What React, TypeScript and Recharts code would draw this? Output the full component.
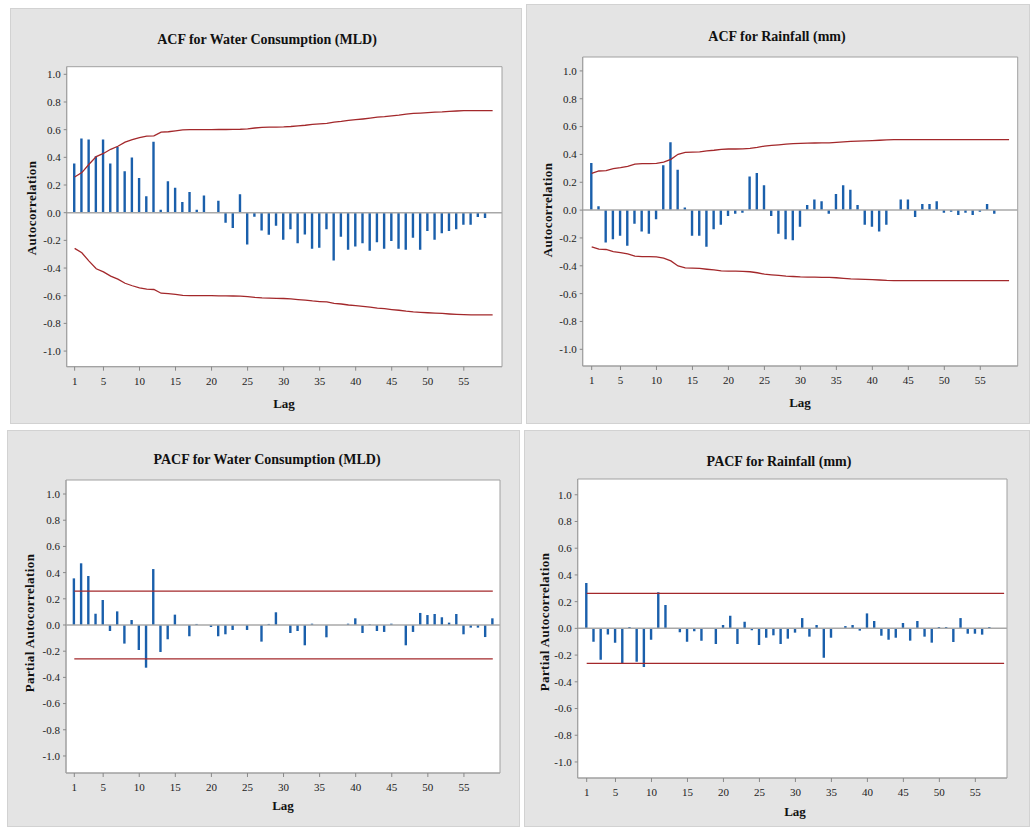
import React from 'react';
import {
  ComposedChart,
  Bar,
  Line,
  XAxis,
  YAxis,
  ReferenceLine,
  ReferenceArea,
  CartesianGrid,
} from 'recharts';

// ---------- data ----------
const LAGS = [
  1, 2, 3, 4, 5, 6, 7, 8, 9, 10, 11, 12, 13, 14, 15, 16, 17, 18, 19, 20,
  21, 22, 23, 24, 25, 26, 27, 28, 29, 30, 31, 32, 33, 34, 35, 36, 37, 38, 39, 40,
  41, 42, 43, 44, 45, 46, 47, 48, 49, 50, 51, 52, 53, 54, 55, 56, 57, 58, 59,
];

const X_TICKS = [1, 5, 10, 15, 20, 25, 30, 35, 40, 45, 50, 55];
const Y_TICKS = [-1, -0.8, -0.6, -0.4, -0.2, 0, 0.2, 0.4, 0.6, 0.8, 1];

const ACF_WATER = [
  0.355, 0.536, 0.529, 0.408, 0.529, 0.355, 0.475, 0.299, 0.398, 0.251,
  0.118, 0.512, 0.022, 0.227, 0.181, 0.077, 0.149, 0.022, 0.125, 0.0,
  0.087, -0.072, -0.111, 0.133, -0.23, -0.03, -0.128, -0.16, -0.094, -0.196,
  -0.119, -0.22, -0.157, -0.261, -0.254, -0.119, -0.346, -0.174, -0.268, -0.244,
  -0.22, -0.275, -0.213, -0.261, -0.205, -0.261, -0.268, -0.181, -0.268, -0.133,
  -0.196, -0.148, -0.133, -0.119, -0.087, -0.087, -0.032, -0.039, 0.0,
];

const ACF_WATER_LIMIT = [
  0.258, 0.29, 0.35, 0.405, 0.428, 0.458, 0.48, 0.51, 0.528, 0.543,
  0.553, 0.555, 0.582, 0.585, 0.591, 0.598, 0.6, 0.6, 0.6, 0.6,
  0.601, 0.601, 0.602, 0.603, 0.606, 0.612, 0.616, 0.618, 0.619, 0.62,
  0.623, 0.628, 0.632, 0.638, 0.642, 0.645, 0.655, 0.66, 0.667, 0.672,
  0.677, 0.683, 0.69, 0.694, 0.7, 0.705, 0.712, 0.717, 0.72, 0.723,
  0.726, 0.728, 0.732, 0.735, 0.737, 0.738, 0.738, 0.738, 0.738,
];

const ACF_RAIN = [
  0.338, 0.027, -0.232, -0.209, -0.184, -0.256, -0.098, -0.153, -0.17, -0.065,
  0.322, 0.487, 0.29, 0.019, -0.184, -0.184, -0.264, -0.137, -0.105, -0.043,
  -0.026, -0.019, 0.242, 0.266, 0.178, -0.043, -0.17, -0.209, -0.216, -0.12,
  0.036, 0.077, 0.063, -0.026, 0.115, 0.178, 0.147, 0.036, -0.105, -0.12,
  -0.153, -0.105, 0.0, 0.077, 0.077, -0.05, 0.043, 0.043, 0.063, -0.019,
  -0.012, -0.036, -0.019, -0.036, -0.012, 0.043, -0.026, 0.0, 0.0,
];

const ACF_RAIN_LIMIT = [
  0.264, 0.281, 0.283, 0.298, 0.305, 0.314, 0.33, 0.334, 0.334, 0.336,
  0.345, 0.365, 0.401, 0.415, 0.417, 0.419, 0.425, 0.43, 0.437, 0.439,
  0.439, 0.44, 0.443, 0.45, 0.46, 0.465, 0.469, 0.474, 0.477, 0.48,
  0.481, 0.482, 0.483, 0.483, 0.486, 0.49, 0.494, 0.496, 0.497, 0.499,
  0.502, 0.505, 0.506, 0.506, 0.506, 0.506, 0.506, 0.506, 0.506, 0.506,
  0.506, 0.506, 0.506, 0.506, 0.506, 0.506, 0.506, 0.506, 0.506,
];

const PACF_WATER = [
  0.356, 0.471, 0.374, 0.086, 0.191, -0.046, 0.104, -0.142, 0.038, -0.191,
  -0.326, 0.427, -0.206, -0.109, 0.079, 0.0, -0.086, 0.008, 0.0, -0.015,
  -0.086, -0.071, -0.038, 0.0, -0.038, 0.0, -0.127, 0.008, 0.097, 0.0,
  -0.061, -0.046, -0.155, 0.01, 0.0, -0.094, 0.0, 0.0, 0.01, 0.051,
  -0.061, 0.005, -0.046, -0.053, 0.01, 0.0, -0.155, -0.053, 0.092, 0.076,
  0.084, 0.059, 0.018, 0.084, -0.071, -0.02, -0.02, -0.092, 0.051,
];
const PACF_WATER_LIMIT = 0.258;

const PACF_RAIN = [
  0.34, -0.1, -0.235, -0.045, -0.107, -0.26, 0.01, -0.25, -0.29, -0.085,
  0.27, 0.175, 0.0, -0.03, -0.1, -0.022, -0.092, 0.0, -0.117, 0.025,
  0.095, -0.117, 0.05, -0.015, -0.125, -0.07, -0.052, -0.117, -0.077, -0.032,
  0.077, -0.062, 0.025, -0.22, -0.07, 0.0, 0.017, 0.025, -0.017, 0.112,
  0.055, -0.055, -0.085, -0.07, 0.04, -0.092, 0.055, -0.062, -0.107, 0.01,
  0.01, -0.102, 0.077, -0.04, -0.04, -0.047, 0.01, 0.0, 0.0,
];
const PACF_RAIN_LIMIT = 0.262;

// ---------- helpers ----------
type Row = { lag: number; value: number; upper: number; lower: number };

function rowsWithLimits(values: number[], limits: number[]): Row[] {
  return LAGS.map((lag, i) => ({ lag, value: values[i], upper: limits[i], lower: -limits[i] }));
}
function rowsWithConst(values: number[], limit: number): Row[] {
  return LAGS.map((lag, i) => ({ lag, value: values[i], upper: limit, lower: -limit }));
}

const SERIF = "'Liberation Serif', 'Times New Roman', serif";
const PANEL_BG = '#e4e4e4';
const BAR_COLOR = '#1a5fab';
const LIMIT_COLOR = '#a3282b';
const FRAME = '#a0a0a0';
const X_AXIS_H = 24;

type Box = { left: number; top: number; width: number; height: number };
type Plot = { left: number; top: number; right: number; bottom: number };

function Panel(props: {
  box: Box;
  plot: Plot;
  xDomain: [number, number];
  yDomain: [number, number];
  rows: Row[];
}) {
  const { box, plot, xDomain, yDomain, rows } = props;
  const yAxisW = plot.left - box.left;
  const margin = {
    left: 0,
    top: plot.top - box.top,
    right: box.left + box.width - plot.right,
    bottom: box.top + box.height - plot.bottom - X_AXIS_H,
  };
  return (
    <div
      style={{
        position: 'absolute',
        left: box.left,
        top: box.top,
        width: box.width,
        height: box.height,
        background: PANEL_BG,
        boxShadow: 'inset 0 0 0 1px #d2d2d2',
      }}
    >
      <ComposedChart width={box.width} height={box.height} data={rows} margin={margin}>
        <CartesianGrid horizontal={false} vertical={false} fill="#ffffff" fillOpacity={1} />
        <XAxis
          dataKey="lag"
          type="number"
          domain={xDomain}
          ticks={X_TICKS}
          interval={0}
          allowDataOverflow
          height={X_AXIS_H}
          tickSize={4}
          tickMargin={6}
          axisLine={{ stroke: FRAME }}
          tickLine={{ stroke: '#888' }}
          tick={{ fill: '#222', fontSize: 11, fontFamily: SERIF }}
        />
        <YAxis
          type="number"
          domain={yDomain}
          ticks={Y_TICKS}
          interval={0}
          allowDataOverflow
          width={yAxisW}
          tickSize={3}
          tickMargin={3}
          axisLine={{ stroke: FRAME }}
          tickLine={{ stroke: '#888' }}
          tick={{ fill: '#222', fontSize: 11, fontFamily: SERIF }}
          tickFormatter={(v: number) => v.toFixed(1)}
        />
        <ReferenceArea
          x1={xDomain[0]}
          x2={xDomain[1]}
          y1={yDomain[0]}
          y2={yDomain[1]}
          fill="none"
          stroke={FRAME}
          strokeWidth={1}
          ifOverflow="visible"
        />
        <ReferenceLine y={0} stroke="#a8a8a8" strokeWidth={1.5} />
        <Bar dataKey="value" fill={BAR_COLOR} barSize={2.4} isAnimationActive={false} />
        <Line
          dataKey="upper"
          type="linear"
          stroke={LIMIT_COLOR}
          strokeWidth={1.3}
          dot={false}
          activeDot={false}
          isAnimationActive={false}
        />
        <Line
          dataKey="lower"
          type="linear"
          stroke={LIMIT_COLOR}
          strokeWidth={1.3}
          dot={false}
          activeDot={false}
          isAnimationActive={false}
        />
      </ComposedChart>
    </div>
  );
}

function Title({ x, y, text }: { x: number; y: number; text: string }) {
  return (
    <div
      style={{
        position: 'absolute',
        left: x,
        top: y,
        transform: 'translate(-50%, -50%)',
        whiteSpace: 'nowrap',
        fontFamily: SERIF,
        fontWeight: 'bold',
        fontSize: 14,
        color: '#111',
      }}
    >
      {text}
    </div>
  );
}

function AxisLabel({ x, y, text, rotate }: { x: number; y: number; text: string; rotate?: boolean }) {
  return (
    <div
      style={{
        position: 'absolute',
        left: x,
        top: y,
        transform: rotate ? 'translate(-50%, -50%) rotate(-90deg)' : 'translate(-50%, -50%)',
        whiteSpace: 'nowrap',
        fontFamily: SERIF,
        fontWeight: 'bold',
        fontSize: 13,
        letterSpacing: rotate ? 0.4 : 0,
        color: '#111',
      }}
    >
      {text}
    </div>
  );
}

export default function App() {
  return (
    <div
      style={{
        position: 'absolute',
        left: 0,
        top: 0,
        width: 1030,
        height: 827,
        background: '#ffffff',
        overflow: 'hidden',
      }}
    >
      <Panel
        box={{ left: 10, top: 8, width: 512, height: 416 }}
        plot={{ left: 66.7, top: 66.7, right: 502, bottom: 366.7 }}
        xDomain={[-0.1, 60.3]}
        yDomain={[-1.113, 1.055]}
        rows={rowsWithLimits(ACF_WATER, ACF_WATER_LIMIT)}
      />
      <Panel
        box={{ left: 526, top: 4, width: 504, height: 420 }}
        plot={{ left: 582.7, top: 57, right: 1017.7, bottom: 366 }}
        xDomain={[-0.25, 60.2]}
        yDomain={[-1.12, 1.1]}
        rows={rowsWithLimits(ACF_RAIN, ACF_RAIN_LIMIT)}
      />
      <Panel
        box={{ left: 7, top: 430, width: 513, height: 397 }}
        plot={{ left: 66, top: 480, right: 500, bottom: 773 }}
        xDomain={[-0.15, 60]}
        yDomain={[-1.13, 1.107]}
        rows={rowsWithConst(PACF_WATER, PACF_WATER_LIMIT)}
      />
      <Panel
        box={{ left: 524, top: 430, width: 506, height: 397 }}
        plot={{ left: 577.7, top: 479, right: 1007, bottom: 778 }}
        xDomain={[-0.25, 59.4]}
        yDomain={[-1.12, 1.118]}
        rows={rowsWithConst(PACF_RAIN, PACF_RAIN_LIMIT)}
      />

      <Title x={267} y={40} text="ACF for Water Consumption (MLD)" />
      <Title x={777} y={37} text="ACF for Rainfall (mm)" />
      <Title x={267} y={460} text="PACF for Water Consumption (MLD)" />
      <Title x={779} y={462} text="PACF for Rainfall (mm)" />

      <AxisLabel x={32} y={208} text="Autocorrelation" rotate />
      <AxisLabel x={548} y={210} text="Autocorrelation" rotate />
      <AxisLabel x={30} y={623} text="Partial Autocorrelation" rotate />
      <AxisLabel x={545} y={622} text="Partial Autocorrelation" rotate />

      <AxisLabel x={284} y={404} text="Lag" />
      <AxisLabel x={800} y={403} text="Lag" />
      <AxisLabel x={283} y={806} text="Lag" />
      <AxisLabel x={795} y={812} text="Lag" />
    </div>
  );
}
